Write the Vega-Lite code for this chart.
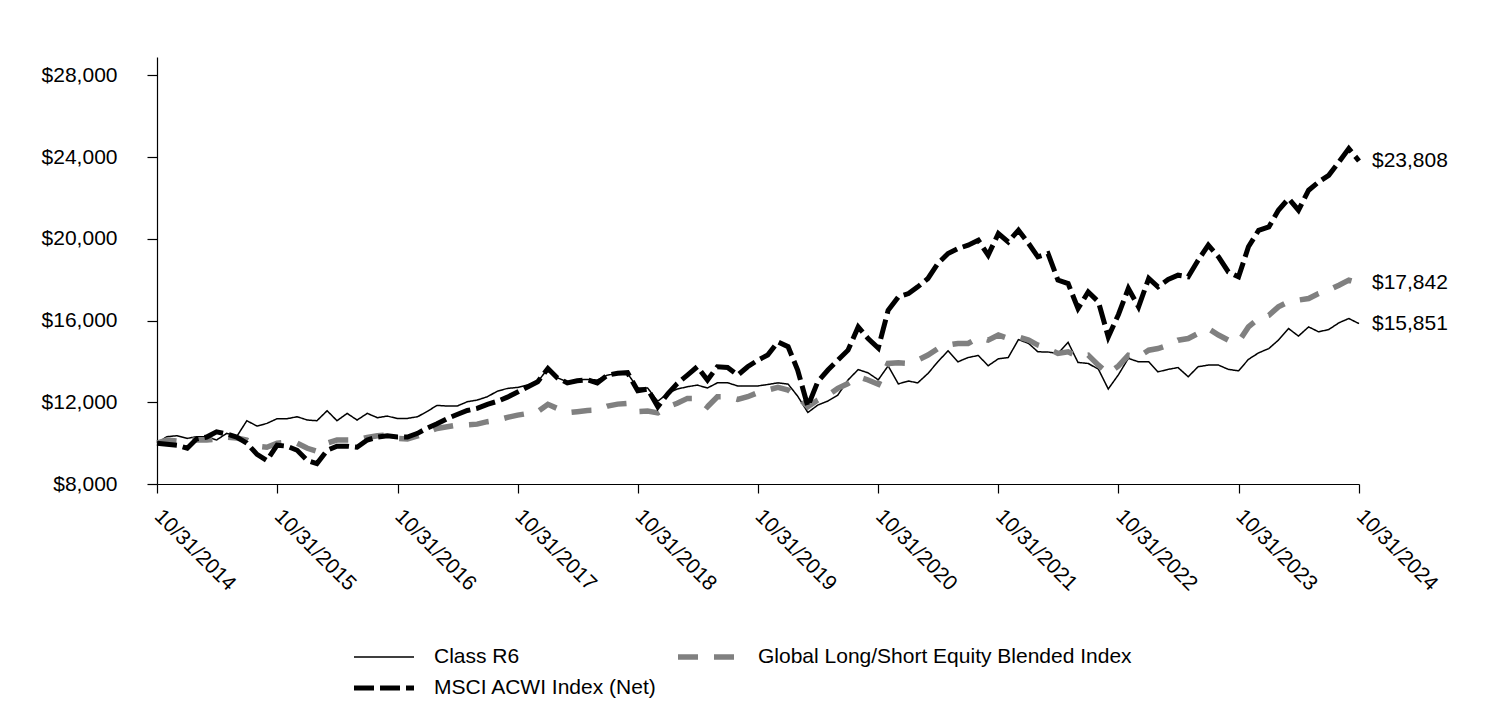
{
  "$schema": "https://vega.github.io/schema/vega-lite/v6.json",
  "width": 1202,
  "height": 427,
  "autosize": {"type": "none"},
  "padding": {"left": 157, "top": 57, "right": 141, "bottom": 218},
  "background": "white",
  "config": {
    "font": "Liberation Sans",
    "view": {"stroke": null},
    "axis": {"grid": false, "domainColor": "#000000", "tickColor": "#000000", "labelColor": "#000000", "labelFontSize": 21, "labelFont": "Liberation Sans", "title": null, "domainWidth": 1.2, "tickWidth": 1.2}
  },
  "data": {
    "format": {"parse": {"date": "date"}},
    "values": [
      {"date": "2014-10-31", "r6": 10000, "glob": 10000, "msci": 10000},
      {"date": "2014-11-30", "r6": 10315, "glob": 10150, "msci": 9950},
      {"date": "2014-12-31", "r6": 10363, "glob": 10100, "msci": 9900},
      {"date": "2015-01-31", "r6": 10233, "glob": 10150, "msci": 9750},
      {"date": "2015-02-28", "r6": 10315, "glob": 10150, "msci": 10200},
      {"date": "2015-03-31", "r6": 10315, "glob": 10150, "msci": 10300},
      {"date": "2015-04-30", "r6": 10152, "glob": 10200, "msci": 10550},
      {"date": "2015-05-31", "r6": 10480, "glob": 10300, "msci": 10450},
      {"date": "2015-06-30", "r6": 10315, "glob": 10250, "msci": 10300},
      {"date": "2015-07-31", "r6": 11097, "glob": 10150, "msci": 10000},
      {"date": "2015-08-31", "r6": 10836, "glob": 9850, "msci": 9450},
      {"date": "2015-09-30", "r6": 10966, "glob": 9800, "msci": 9150},
      {"date": "2015-10-31", "r6": 11195, "glob": 10000, "msci": 9900},
      {"date": "2015-11-30", "r6": 11195, "glob": 10050, "msci": 9850},
      {"date": "2015-12-31", "r6": 11293, "glob": 10000, "msci": 9650},
      {"date": "2016-01-31", "r6": 11130, "glob": 9750, "msci": 9150},
      {"date": "2016-02-29", "r6": 11097, "glob": 9600, "msci": 9000},
      {"date": "2016-03-31", "r6": 11586, "glob": 10000, "msci": 9650},
      {"date": "2016-04-30", "r6": 11097, "glob": 10150, "msci": 9850},
      {"date": "2016-05-31", "r6": 11456, "glob": 10150, "msci": 9850},
      {"date": "2016-06-30", "r6": 11130, "glob": 10150, "msci": 9800},
      {"date": "2016-07-31", "r6": 11456, "glob": 10280, "msci": 10150},
      {"date": "2016-08-31", "r6": 11244, "glob": 10360, "msci": 10300},
      {"date": "2016-09-30", "r6": 11325, "glob": 10400, "msci": 10360},
      {"date": "2016-10-31", "r6": 11200, "glob": 10230, "msci": 10300},
      {"date": "2016-11-30", "r6": 11211, "glob": 10200, "msci": 10300},
      {"date": "2016-12-31", "r6": 11293, "glob": 10350, "msci": 10480},
      {"date": "2017-01-31", "r6": 11570, "glob": 10550, "msci": 10750},
      {"date": "2017-02-28", "r6": 11847, "glob": 10720, "msci": 10950},
      {"date": "2017-03-31", "r6": 11814, "glob": 10800, "msci": 11200},
      {"date": "2017-04-30", "r6": 11814, "glob": 10880, "msci": 11400},
      {"date": "2017-05-31", "r6": 12026, "glob": 10900, "msci": 11600},
      {"date": "2017-06-30", "r6": 12108, "glob": 10930, "msci": 11700},
      {"date": "2017-07-31", "r6": 12271, "glob": 11050, "msci": 11900},
      {"date": "2017-08-31", "r6": 12548, "glob": 11130, "msci": 12050},
      {"date": "2017-09-30", "r6": 12678, "glob": 11260, "msci": 12250},
      {"date": "2017-10-31", "r6": 12727, "glob": 11370, "msci": 12500},
      {"date": "2017-11-30", "r6": 12841, "glob": 11450, "msci": 12750},
      {"date": "2017-12-31", "r6": 13004, "glob": 11540, "msci": 13000},
      {"date": "2018-01-31", "r6": 13650, "glob": 11900, "msci": 13650},
      {"date": "2018-02-28", "r6": 13200, "glob": 11700, "msci": 13200},
      {"date": "2018-03-31", "r6": 13000, "glob": 11490, "msci": 12950},
      {"date": "2018-04-30", "r6": 13090, "glob": 11540, "msci": 13050},
      {"date": "2018-05-31", "r6": 13120, "glob": 11600, "msci": 13100},
      {"date": "2018-06-30", "r6": 13090, "glob": 11620, "msci": 12950},
      {"date": "2018-07-31", "r6": 13330, "glob": 11810, "msci": 13330},
      {"date": "2018-08-31", "r6": 13410, "glob": 11910, "msci": 13420},
      {"date": "2018-09-30", "r6": 13410, "glob": 11950, "msci": 13450},
      {"date": "2018-10-31", "r6": 12700, "glob": 11540, "msci": 12560},
      {"date": "2018-11-30", "r6": 12700, "glob": 11570, "msci": 12650},
      {"date": "2018-12-31", "r6": 12050, "glob": 11480, "msci": 11780},
      {"date": "2019-01-31", "r6": 12450, "glob": 11780, "msci": 12430},
      {"date": "2019-02-28", "r6": 12650, "glob": 11950, "msci": 12920},
      {"date": "2019-03-31", "r6": 12760, "glob": 12190, "msci": 13330},
      {"date": "2019-04-30", "r6": 12840, "glob": 12190, "msci": 13740},
      {"date": "2019-05-31", "r6": 12700, "glob": 11780, "msci": 13090},
      {"date": "2019-06-30", "r6": 12950, "glob": 12270, "msci": 13740},
      {"date": "2019-07-31", "r6": 12955, "glob": 12270, "msci": 13700},
      {"date": "2019-08-31", "r6": 12800, "glob": 12140, "msci": 13330},
      {"date": "2019-09-30", "r6": 12800, "glob": 12270, "msci": 13740},
      {"date": "2019-10-31", "r6": 12800, "glob": 12470, "msci": 14060},
      {"date": "2019-11-30", "r6": 12870, "glob": 12600, "msci": 14310},
      {"date": "2019-12-31", "r6": 12950, "glob": 12730, "msci": 14960},
      {"date": "2020-01-31", "r6": 12890, "glob": 12600, "msci": 14720},
      {"date": "2020-02-29", "r6": 12300, "glob": 12270, "msci": 13580},
      {"date": "2020-03-31", "r6": 11500, "glob": 11780, "msci": 11800},
      {"date": "2020-04-30", "r6": 11860, "glob": 12110, "msci": 13000},
      {"date": "2020-05-31", "r6": 12060, "glob": 12350, "msci": 13580},
      {"date": "2020-06-30", "r6": 12350, "glob": 12680, "msci": 14060},
      {"date": "2020-07-31", "r6": 13090, "glob": 12920, "msci": 14550},
      {"date": "2020-08-31", "r6": 13600, "glob": 13250, "msci": 15690},
      {"date": "2020-09-30", "r6": 13440, "glob": 13090, "msci": 15120},
      {"date": "2020-10-31", "r6": 13100, "glob": 12880, "msci": 14650},
      {"date": "2020-11-30", "r6": 13780, "glob": 13900, "msci": 16500},
      {"date": "2020-12-31", "r6": 12900, "glob": 13930, "msci": 17160},
      {"date": "2021-01-31", "r6": 13040, "glob": 13900, "msci": 17320},
      {"date": "2021-02-28", "r6": 12950, "glob": 14060, "msci": 17650},
      {"date": "2021-03-31", "r6": 13410, "glob": 14310, "msci": 18060},
      {"date": "2021-04-30", "r6": 13980, "glob": 14630, "msci": 18790},
      {"date": "2021-05-31", "r6": 14520, "glob": 14800, "msci": 19280},
      {"date": "2021-06-30", "r6": 13980, "glob": 14880, "msci": 19520},
      {"date": "2021-07-31", "r6": 14190, "glob": 14880, "msci": 19690},
      {"date": "2021-08-31", "r6": 14290, "glob": 15160, "msci": 19930},
      {"date": "2021-09-30", "r6": 13790, "glob": 15040, "msci": 19200},
      {"date": "2021-10-31", "r6": 14130, "glob": 15290, "msci": 20260},
      {"date": "2021-11-30", "r6": 14190, "glob": 15120, "msci": 19850},
      {"date": "2021-12-31", "r6": 15070, "glob": 15200, "msci": 20420},
      {"date": "2022-01-31", "r6": 14880, "glob": 15040, "msci": 19770},
      {"date": "2022-02-28", "r6": 14470, "glob": 14800, "msci": 19120},
      {"date": "2022-03-31", "r6": 14460, "glob": 14630, "msci": 19280},
      {"date": "2022-04-30", "r6": 14390, "glob": 14390, "msci": 17980},
      {"date": "2022-05-31", "r6": 14930, "glob": 14470, "msci": 17810},
      {"date": "2022-06-30", "r6": 13950, "glob": 14230, "msci": 16590},
      {"date": "2022-07-31", "r6": 13900, "glob": 14310, "msci": 17400},
      {"date": "2022-08-31", "r6": 13620, "glob": 13820, "msci": 16920},
      {"date": "2022-09-30", "r6": 12650, "glob": 13410, "msci": 15200},
      {"date": "2022-10-31", "r6": 13350, "glob": 13780, "msci": 16300},
      {"date": "2022-11-30", "r6": 14150, "glob": 14300, "msci": 17570},
      {"date": "2022-12-31", "r6": 13980, "glob": 14230, "msci": 16670},
      {"date": "2023-01-31", "r6": 13980, "glob": 14550, "msci": 18060},
      {"date": "2023-02-28", "r6": 13490, "glob": 14630, "msci": 17650},
      {"date": "2023-03-31", "r6": 13610, "glob": 14800, "msci": 18010},
      {"date": "2023-04-30", "r6": 13700, "glob": 15040, "msci": 18220},
      {"date": "2023-05-31", "r6": 13250, "glob": 15120, "msci": 18140},
      {"date": "2023-06-30", "r6": 13740, "glob": 15370, "msci": 18950},
      {"date": "2023-07-31", "r6": 13820, "glob": 15610, "msci": 19690},
      {"date": "2023-08-31", "r6": 13820, "glob": 15290, "msci": 19120},
      {"date": "2023-09-30", "r6": 13610, "glob": 15040, "msci": 18380},
      {"date": "2023-10-31", "r6": 13540, "glob": 14960, "msci": 18140},
      {"date": "2023-11-30", "r6": 14100, "glob": 15690, "msci": 19610},
      {"date": "2023-12-31", "r6": 14420, "glob": 16100, "msci": 20420},
      {"date": "2024-01-31", "r6": 14630, "glob": 16260, "msci": 20580},
      {"date": "2024-02-29", "r6": 15040, "glob": 16670, "msci": 21400},
      {"date": "2024-03-31", "r6": 15610, "glob": 16920, "msci": 21970},
      {"date": "2024-04-30", "r6": 15240, "glob": 17000, "msci": 21400},
      {"date": "2024-05-31", "r6": 15690, "glob": 17080, "msci": 22380},
      {"date": "2024-06-30", "r6": 15450, "glob": 17320, "msci": 22780},
      {"date": "2024-07-31", "r6": 15560, "glob": 17490, "msci": 23110},
      {"date": "2024-08-31", "r6": 15890, "glob": 17730, "msci": 23760},
      {"date": "2024-09-30", "r6": 16100, "glob": 17980, "msci": 24420},
      {"date": "2024-10-31", "r6": 15851, "glob": 17842, "msci": 23808}
    ]
  },
  "transform": [
    {"fold": ["r6", "glob", "msci"], "as": ["series", "value"]}
  ],
  "encoding": {
    "x": {
      "field": "date",
      "type": "temporal",
      "scale": {"type": "utc", "domain": [{"year": 2014, "month": 10, "date": 31, "utc": true}, {"year": 2024, "month": 10, "date": 31, "utc": true}]},
      "axis": {
        "values": [
          {"year": 2014, "month": 10, "date": 31, "utc": true},
          {"year": 2015, "month": 10, "date": 31, "utc": true},
          {"year": 2016, "month": 10, "date": 31, "utc": true},
          {"year": 2017, "month": 10, "date": 31, "utc": true},
          {"year": 2018, "month": 10, "date": 31, "utc": true},
          {"year": 2019, "month": 10, "date": 31, "utc": true},
          {"year": 2020, "month": 10, "date": 31, "utc": true},
          {"year": 2021, "month": 10, "date": 31, "utc": true},
          {"year": 2022, "month": 10, "date": 31, "utc": true},
          {"year": 2023, "month": 10, "date": 31, "utc": true},
          {"year": 2024, "month": 10, "date": 31, "utc": true}
        ],
        "labelExpr": "utcFormat(datum.value, '%m/%d/%Y')",
        "labelAngle": 45,
        "labelAlign": "left",
        "labelBaseline": "top",
        "labelPadding": 12,
        "labelOffset": 8,
        "tickSize": 9,
        "labelFlush": false,
        "labelOverlap": false
      }
    },
    "y": {
      "field": "value",
      "type": "quantitative",
      "scale": {"domain": [8000, 28900], "nice": false, "zero": false},
      "axis": {
        "values": [8000, 12000, 16000, 20000, 24000, 28000],
        "format": "$,.0f",
        "tickSize": 10,
        "labelPadding": 30
      }
    }
  },
  "layer": [
    {
      "mark": {"type": "line", "strokeCap": "butt", "strokeJoin": "miter"},
      "encoding": {
        "color": {
          "field": "series",
          "type": "nominal",
          "scale": {"domain": ["r6", "msci", "glob"], "range": ["#000000", "#000000", "#808080"]},
          "legend": {
            "orient": "none",
            "legendX": 194,
            "legendY": 588,
            "columns": 2,
            "title": null,
            "labelFontSize": 21,
            "labelColor": "#000000",
            "labelLimit": 600,
            "symbolType": "stroke",
            "symbolSize": 3600,
            "labelOffset": 17,
            "columnPadding": 18,
            "clipHeight": 24,
            "rowPadding": 7,
            "labelExpr": "datum.value == 'r6' ? 'Class R6' : datum.value == 'glob' ? 'Global Long/Short Equity Blended Index' : 'MSCI ACWI Index (Net)'"
          }
        },
        "strokeDash": {
          "field": "series",
          "type": "nominal",
          "scale": {"domain": ["r6", "msci", "glob"], "range": [[1, 0], [20, 6], [20, 16]]}
        },
        "strokeWidth": {
          "field": "series",
          "type": "nominal",
          "scale": {"type": "ordinal", "domain": ["r6", "msci", "glob"], "range": [1.5, 5, 5.5]}
        }
      }
    },
    {
      "transform": [{"filter": "utcyear(datum.date) == 2024 && utcmonth(datum.date) == 9"}],
      "mark": {"type": "text", "align": "left", "baseline": "middle", "dx": 13, "fontSize": 21, "color": "#000000"},
      "encoding": {
        "text": {"field": "value", "type": "quantitative", "format": "$,.0f"}
      }
    }
  ]
}
